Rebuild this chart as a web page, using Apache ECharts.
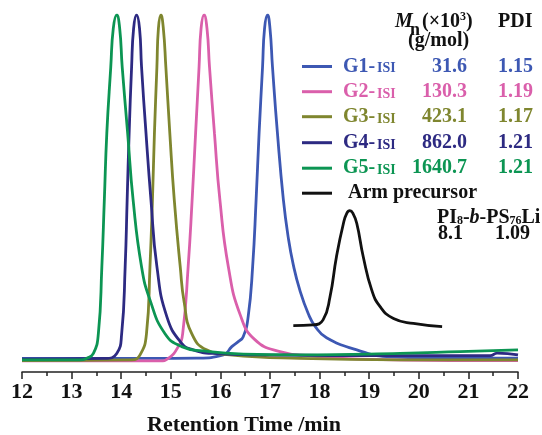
<!DOCTYPE html>
<html>
<head>
<meta charset="utf-8">
<script src="https://cdn.jsdelivr.net/npm/echarts@6/dist/echarts.min.js"></script>
<style>
  html, body { margin: 0; padding: 0; background: #fff; }
  #chart { width: 542px; height: 435px; }
</style>
</head>
<body>
<div id="chart"></div>
<script>
// SEC traces: [retention time (min), normalised RI response]
const g1Trace = [
  [12.00, 3.8], [14.58, 3.8], [15.52, 3.9], [16.06, 4.8], [16.23, 7.1], [16.36, 8.5],
  [16.46, 9.9], [16.56, 15.5], [16.65, 29.5], [16.72, 48.2], [16.78, 66.9], [16.85, 85.5],
  [16.89, 96.2], [16.95, 100], [17.00, 96.2], [17.05, 85.5], [17.15, 66.9], [17.27, 48.2],
  [17.37, 37.5], [17.47, 30.0], [17.60, 23.0], [17.77, 16.4], [17.91, 12.8], [18.14, 9.6],
  [18.75, 6.2], [19.35, 4.3], [20.23, 3.9], [22.00, 3.9]
];
const g2Trace = [
  [12.00, 3.1], [14.78, 3.1], [14.95, 3.8], [15.15, 7.1], [15.24, 10.8], [15.35, 29.5],
  [15.43, 48.2], [15.50, 66.9], [15.57, 85.5], [15.61, 96.2], [15.67, 100], [15.73, 96.2],
  [15.78, 85.5], [15.88, 66.9], [15.99, 48.2], [16.16, 29.5], [16.40, 16.0], [16.70, 9.0],
  [17.20, 5.7], [17.81, 4.5], [18.81, 3.6], [20.63, 3.2], [22.00, 3.2]
];
const g3Trace = [
  [12.00, 3.2], [14.21, 3.4], [14.38, 4.8], [14.51, 10.8], [14.58, 29.5], [14.63, 48.2],
  [14.67, 66.9], [14.72, 85.5], [14.75, 96.2], [14.80, 100], [14.85, 96.2], [14.90, 85.5],
  [14.98, 66.9], [15.07, 48.2], [15.19, 29.5], [15.27, 19.5], [15.42, 10.8], [15.72, 6.2],
  [16.19, 4.8], [17.60, 3.8], [19.62, 3.4], [22.00, 3.4]
];
const g4Trace = [
  [12.00, 3.6], [13.67, 3.8], [13.91, 5.2], [14.01, 10.8], [14.08, 29.5], [14.12, 48.2],
  [14.16, 66.9], [14.21, 85.5], [14.25, 96.2], [14.31, 100], [14.37, 96.2], [14.41, 85.5],
  [14.50, 66.9], [14.60, 48.2], [14.72, 29.5], [14.92, 15.5], [15.22, 8.0], [15.45, 6.2],
  [15.85, 5.2], [16.80, 4.8], [19.62, 4.6], [21.44, 4.6], [21.58, 5.3], [22.00, 4.8]
];
const g5Trace = [
  [12.00, 3.4], [13.17, 3.4], [13.30, 3.8], [13.44, 5.2], [13.54, 10.8], [13.61, 29.5],
  [13.66, 48.2], [13.71, 66.9], [13.79, 85.5], [13.84, 96.2], [13.91, 100], [13.97, 96.2],
  [14.02, 85.5], [14.13, 66.9], [14.24, 48.2], [14.41, 29.5], [14.58, 20.2], [14.88, 10.8],
  [15.22, 7.1], [15.65, 5.9], [16.46, 5.0], [17.60, 4.8], [19.62, 5.2], [20.83, 5.7],
  [22.00, 6.2]
];
const armTrace = [
  [17.47, 13.0], [17.87, 13.2], [18.07, 14.6], [18.21, 21.1], [18.34, 32.3], [18.48, 41.6],
  [18.55, 44.5], [18.61, 45.2], [18.67, 44.5], [18.75, 41.6], [18.88, 32.3], [19.05, 23.0],
  [19.22, 18.3], [19.49, 15.0], [19.89, 13.6], [20.47, 12.7]
];

// Legend table
const sampleNames = ['G1', 'G2', 'G3', 'G4', 'G5'];
const mnValues = ['31.6', '130.3', '423.1', '862.0', '1640.7'];
const pdiValues = ['1.15', '1.19', '1.17', '1.21', '1.21'];
const armMn = '8.1';
const armPdi = '1.09';

const colors = ['#3d58b3', '#da5fab', '#7f862f', '#2d2a82', '#0c9553'];
const armColor = '#111111';
const traces = [g1Trace, g2Trace, g3Trace, g4Trace, g5Trace];

const SERIF = '"Liberation Serif", "Times New Roman", serif';
const font = (size, extra) => (extra || 'bold') + ' ' + size + 'px ' + SERIF;

function txt(x, y, text, size, color, align, extra) {
  return {
    type: 'text', x: x, y: y, z: 10,
    style: {
      text: text, font: font(size, extra), fill: color || '#111',
      textAlign: align || 'left', textVerticalAlign: 'middle'
    }
  };
}
function sample(y, color) {
  return {
    type: 'line', z: 10,
    shape: { x1: 302, y1: y, x2: 332, y2: y },
    style: { stroke: color, lineWidth: 3 }
  };
}

const graphics = [
  // header
  txt(395, 21.5, 'M', 20, '#111', 'left', 'italic bold'),
  txt(410, 30, 'n', 18, '#111'),
  txt(422, 21.5, '(\u00d710', 20, '#111'),
  txt(460, 16.5, '3', 12, '#111'),
  txt(466, 21.5, ')', 20, '#111'),
  txt(498, 22, 'PDI', 20, '#111'),
  txt(408, 41, '(g/mol)', 20, '#111')
];
const rowBase = [73.3, 98.5, 123.5, 149.5, 175];
sampleNames.forEach((nm, i) => {
  const c = rowBase[i] - 6.8;
  graphics.push(sample(c, colors[i]));
  graphics.push(txt(343, c, nm + '-', 20, colors[i]));
  graphics.push(txt(377, c + 2.2, 'ISI', 14, colors[i]));
  graphics.push(txt(467, c, mnValues[i], 20, colors[i], 'right'));
  graphics.push(txt(498, c, pdiValues[i], 20, colors[i]));
});
const armC = 200 - 6.8;
graphics.push(sample(armC, armColor));
graphics.push(txt(348, armC, 'Arm precursor', 20, '#111'));
// PI8-b-PS76Li
const pc = 225 - 6.8;
graphics.push(txt(437, pc, 'PI', 20, '#111'));
graphics.push(txt(457, pc + 2.7, '8', 12, '#111'));
graphics.push(txt(463, pc, '-', 20, '#111'));
graphics.push(txt(469.5, pc, 'b', 20, '#111', 'left', 'italic bold'));
graphics.push(txt(479.5, pc, '-PS', 20, '#111'));
graphics.push(txt(509.5, pc + 2.7, '76', 12, '#111'));
graphics.push(txt(521.5, pc, 'Li', 20, '#111'));
graphics.push(txt(438, 241 - 6.8, armMn, 20, '#111'));
graphics.push(txt(495, 241 - 6.8, armPdi, 20, '#111'));
// axis title
graphics.push(txt(244, 425, 'Retention Time /min', 22, '#111', 'center'));

const series = traces.map((d, i) => ({
  type: 'line', data: d, showSymbol: false, smooth: 0.5,
  lineStyle: { color: colors[i], width: 2.8 }, silent: true, animation: false
}));
series.push({
  type: 'line', data: armTrace, showSymbol: false, smooth: 0.5,
  lineStyle: { color: armColor, width: 2.8 }, silent: true, animation: false
});

const chart = echarts.init(document.getElementById('chart'), null, { renderer: 'canvas' });
chart.setOption({
  backgroundColor: '#ffffff',
  animation: false,
  grid: { left: 22, right: 24, top: 15, bottom: 63 },
  xAxis: {
    type: 'value', min: 12, max: 22, interval: 1,
    axisLine: { onZero: false, lineStyle: { color: '#222', width: 1.5 } },
    axisTick: { show: true, inside: false, length: 7, lineStyle: { color: '#222', width: 1.5 } },
    minorTick: { show: true, splitNumber: 2, length: 4, lineStyle: { color: '#222', width: 1.5 } },
    splitLine: { show: false },
    axisLabel: { color: '#111', fontFamily: SERIF, fontWeight: 'bold', fontSize: 22, margin: 9 }
  },
  yAxis: { type: 'value', min: 0, max: 100, show: false, splitLine: { show: false } },
  series: series,
  graphic: graphics
});
</script>
</body>
</html>
